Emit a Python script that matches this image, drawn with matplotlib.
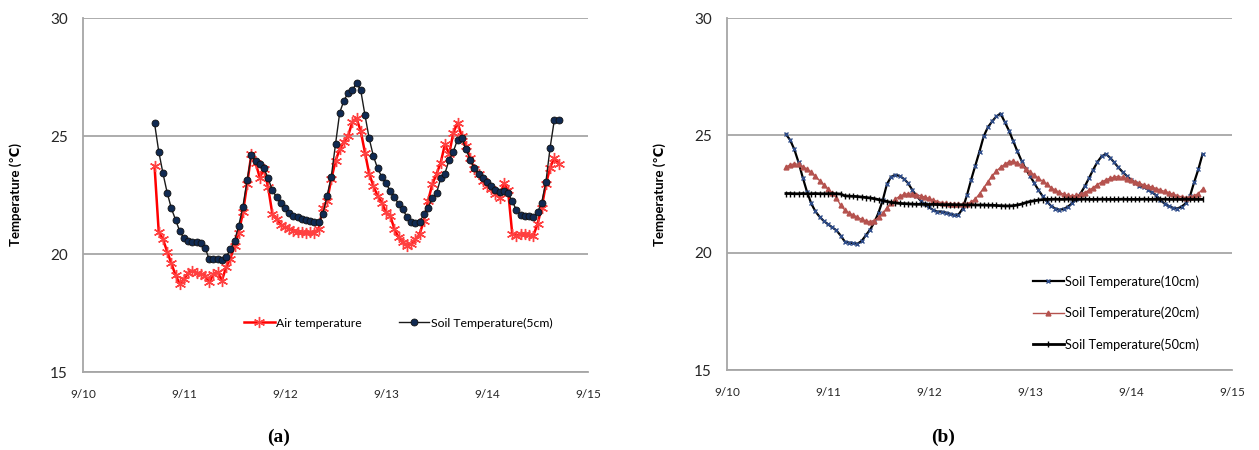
import numpy as np
import matplotlib.pyplot as plt

plt.rcParams['font.family'] = ['Lato', 'DejaVu Sans']

day_labels = ['9/10', '9/11', '9/12', '9/13', '9/14', '9/15']
y_ticks = [15, 20, 25, 30]

# hourly readings, first one at 17:00 on 9/10
start_a = 17
air_temp = [23.73, 20.92, 20.63, 20.1, 19.6, 19.1, 18.73, 18.94, 19.2, 19.3,
            19.2, 19.15, 19.08, 18.8, 19.15, 19.23, 18.87, 19.44, 19.8, 20.35,
            20.9, 21.76, 22.96, 24.23, 23.87, 23.24, 23.59, 22.82, 21.69, 21.48,
            21.23, 21.13, 21.06, 20.99, 20.94, 20.92, 20.87, 20.92, 20.89, 21.06,
            21.97, 22.25, 23.17, 23.94, 24.44, 24.76, 25.0, 25.6, 25.75, 25.2,
            24.3, 23.4, 22.89, 22.46, 22.18, 21.76, 21.62, 21.06, 20.7, 20.49,
            20.35, 20.42, 20.63, 20.85, 21.41, 22.25, 22.96, 23.38, 23.87, 24.65,
            24.23, 25.14, 25.56, 25.0, 24.58, 24.08, 23.59, 23.38, 23.1, 22.89,
            22.75, 22.54, 22.39, 23.0, 22.7, 20.85, 20.77, 20.85, 20.85, 20.82,
            20.77, 21.27, 21.97, 22.96, 23.66, 24.08, 23.8]
soil_5cm = [25.54, 24.34, 23.42, 22.6, 21.93, 21.45, 20.96, 20.66, 20.56, 20.49,
            20.49, 20.46, 20.27, 19.77, 19.79, 19.79, 19.76, 19.86, 20.2, 20.54,
            21.2, 22.01, 23.13, 24.18, 23.94, 23.83, 23.63, 23.21, 22.7, 22.41,
            22.15, 21.93, 21.73, 21.62, 21.58, 21.49, 21.44, 21.38, 21.34, 21.34,
            21.69, 22.46, 23.28, 24.65, 25.99, 26.5, 26.83, 26.94, 27.25, 26.93,
            25.89, 24.9, 24.15, 23.63, 23.27, 22.99, 22.68, 22.42, 22.11, 21.9,
            21.55, 21.34, 21.3, 21.34, 21.69, 21.97, 22.37, 22.58, 23.2, 23.41,
            23.99, 24.34, 24.85, 24.9, 24.44, 24.0, 23.63, 23.41, 23.21, 23.07,
            22.89, 22.7, 22.61, 22.68, 22.59, 22.23, 21.86, 21.66, 21.62, 21.59,
            21.58, 21.76, 22.18, 23.06, 24.51, 25.68, 25.68]

# deeper probes, hourly from 14:00 on 9/10
start_b = 14
soil_10cm = [25.05, 24.8, 24.4, 23.85, 23.2, 22.6, 22.1, 21.76, 21.53, 21.35,
             21.21, 21.08, 20.95, 20.73, 20.47, 20.43, 20.41, 20.38, 20.5, 20.74,
             20.98, 21.29, 21.7, 22.23, 22.92, 23.23, 23.32, 23.27, 23.15, 22.97,
             22.68, 22.43, 22.22, 22.06, 21.93, 21.82, 21.75, 21.75, 21.71, 21.66,
             21.61, 21.62, 21.87, 22.44, 23.1, 23.71, 24.31, 24.96, 25.35, 25.59,
             25.81, 25.93, 25.57, 25.2, 24.76, 24.32, 23.91, 23.56, 23.27, 22.97,
             22.67, 22.41, 22.18, 21.99, 21.88, 21.83, 21.86, 21.96, 22.1, 22.28,
             22.52, 22.82, 23.17, 23.53, 23.86, 24.1, 24.21, 24.05, 23.85, 23.63,
             23.44, 23.27, 23.11, 22.97, 22.86, 22.79, 22.69, 22.57, 22.44, 22.25,
             22.08, 21.98, 21.91, 21.88, 21.96, 22.1, 22.4, 23.0, 23.55, 24.2]
soil_20cm = [23.65, 23.74, 23.79, 23.76, 23.67, 23.56, 23.43, 23.25, 23.07, 22.89,
             22.71, 22.54, 22.35, 22.01, 21.82, 21.69, 21.6, 21.51, 21.42, 21.35,
             21.32, 21.37, 21.5, 21.67, 21.91, 22.1, 22.28, 22.4, 22.48, 22.51,
             22.5, 22.47, 22.42, 22.37, 22.31, 22.23, 22.18, 22.13, 22.1, 22.08,
             22.06, 22.06, 22.06, 22.08, 22.16, 22.28, 22.51, 22.76, 23.02, 23.27,
             23.47, 23.64, 23.76, 23.88, 23.89, 23.82, 23.72, 23.58, 23.44, 23.31,
             23.17, 23.04, 22.91, 22.77, 22.66, 22.57, 22.49, 22.44, 22.41, 22.44,
             22.5, 22.56, 22.66, 22.77, 22.9, 23.01, 23.1, 23.17, 23.22, 23.24,
             23.21, 23.15, 23.08, 23.02, 22.96, 22.89, 22.84, 22.79, 22.73, 22.67,
             22.61, 22.56, 22.49, 22.43, 22.38, 22.35, 22.37, 22.43, 22.52, 22.7]
soil_50cm = [22.52, 22.52, 22.51, 22.51, 22.52, 22.51, 22.51, 22.52, 22.51, 22.51,
             22.51, 22.52, 22.51, 22.5, 22.42, 22.41, 22.4, 22.39, 22.37, 22.35,
             22.33, 22.3, 22.26, 22.22, 22.18, 22.14, 22.12, 22.1, 22.09, 22.08,
             22.07, 22.06, 22.06, 22.06, 22.05, 22.06, 22.05, 22.05, 22.04, 22.05,
             22.04, 22.04, 22.04, 22.03, 22.04, 22.03, 22.03, 22.03, 22.02, 22.02,
             22.01, 22.0, 21.99, 21.99, 22.0, 22.03, 22.07, 22.13, 22.18, 22.21,
             22.24, 22.26, 22.27, 22.27, 22.28, 22.27, 22.27, 22.28, 22.27, 22.27,
             22.27, 22.28, 22.27, 22.27, 22.27, 22.28, 22.27, 22.27, 22.27, 22.27,
             22.28, 22.27, 22.27, 22.27, 22.27, 22.28, 22.27, 22.27, 22.27, 22.27,
             22.28, 22.27, 22.27, 22.27, 22.27, 22.28, 22.27, 22.27, 22.27, 22.27]

hours_a = start_a + np.arange(len(air_temp))
hours_b = start_b + np.arange(len(soil_10cm))

GRID = '#a6a6a6'


def style_axes(ax):
    ax.set_xlim(0, 24 * (len(day_labels) - 1))
    ax.set_ylim(15, 30)
    ax.set_xticks(np.arange(len(day_labels)) * 24)
    ax.set_xticklabels(day_labels, fontsize=8.5)
    ax.set_yticks(y_ticks)
    ax.tick_params(axis='y', length=0, pad=11, labelsize=11, labelcolor='#262626')
    ax.tick_params(axis='x', length=0, pad=12, labelcolor='#262626')
    for s in ['top', 'right']:
        ax.spines[s].set_visible(False)
    for s in ['left', 'bottom']:
        ax.spines[s].set_color(GRID)
        ax.spines[s].set_linewidth(1.3)
    ax.yaxis.grid(True, color=GRID, linewidth=1.3)
    ax.set_axisbelow(True)
    ax.set_ylabel('Temperature (℃)', fontsize=9.5, fontweight='bold')
    ax.yaxis.set_label_coords(-0.12, 0.5)


fig = plt.figure(figsize=(12.59, 4.5), dpi=100)
ax1 = fig.add_axes([83 / 1259, 78 / 450, 505 / 1259, 354 / 450])
ax2 = fig.add_axes([727 / 1259, 80 / 450, 505 / 1259, 352 / 450])

# (a) air vs 5cm soil
ax1.plot(hours_a, air_temp, color='#ff0000', lw=1.8, marker=(6, 2, 0), ms=8,
         mec='#ff4040', mew=1.0, label='Air temperature')
ax1.plot(hours_a, soil_5cm, color='#1a1a1a', lw=1.0, marker='o', ms=5,
         mfc='#102a52', mec='#111111', mew=0.6, label='Soil Temperature(5cm)')
style_axes(ax1)
ax1.legend(loc='center left', bbox_to_anchor=(0.297, 0.138), ncol=2, frameon=False,
           fontsize=8.8, handlelength=2.5, handletextpad=0.15, columnspacing=3.0)

# (b) deeper soil layers
ax2.plot(hours_b, soil_10cm, color='black', lw=1.6, marker='x', ms=3.5,
         mec='#2f4d8a', mew=1.0, label='Soil Temperature(10cm)')
ax2.plot(hours_b, soil_20cm, color='#b5524e', lw=1.0, marker='^', ms=3.5,
         mfc='#b5524e', mec='#b5524e', label='Soil Temperature(20cm)')
ax2.plot(hours_b, soil_50cm, color='black', lw=2.0, marker='|', ms=4,
         mew=1.0, label='Soil Temperature(50cm)')
style_axes(ax2)
ax2.legend(loc='center left', bbox_to_anchor=(0.583, 0.162), frameon=False,
           fontsize=9.2, handlelength=2.4, handletextpad=0.15, labelspacing=1.5)

fig.text(279 / 1259, 1 - 437 / 450, '(a)', family='Liberation Serif',
         fontweight='bold', fontsize=14, ha='center', va='center')
fig.text(943 / 1259, 1 - 437 / 450, '(b)', family='Liberation Serif',
         fontweight='bold', fontsize=14, ha='center', va='center')

fig.savefig('out.png', dpi=100)
